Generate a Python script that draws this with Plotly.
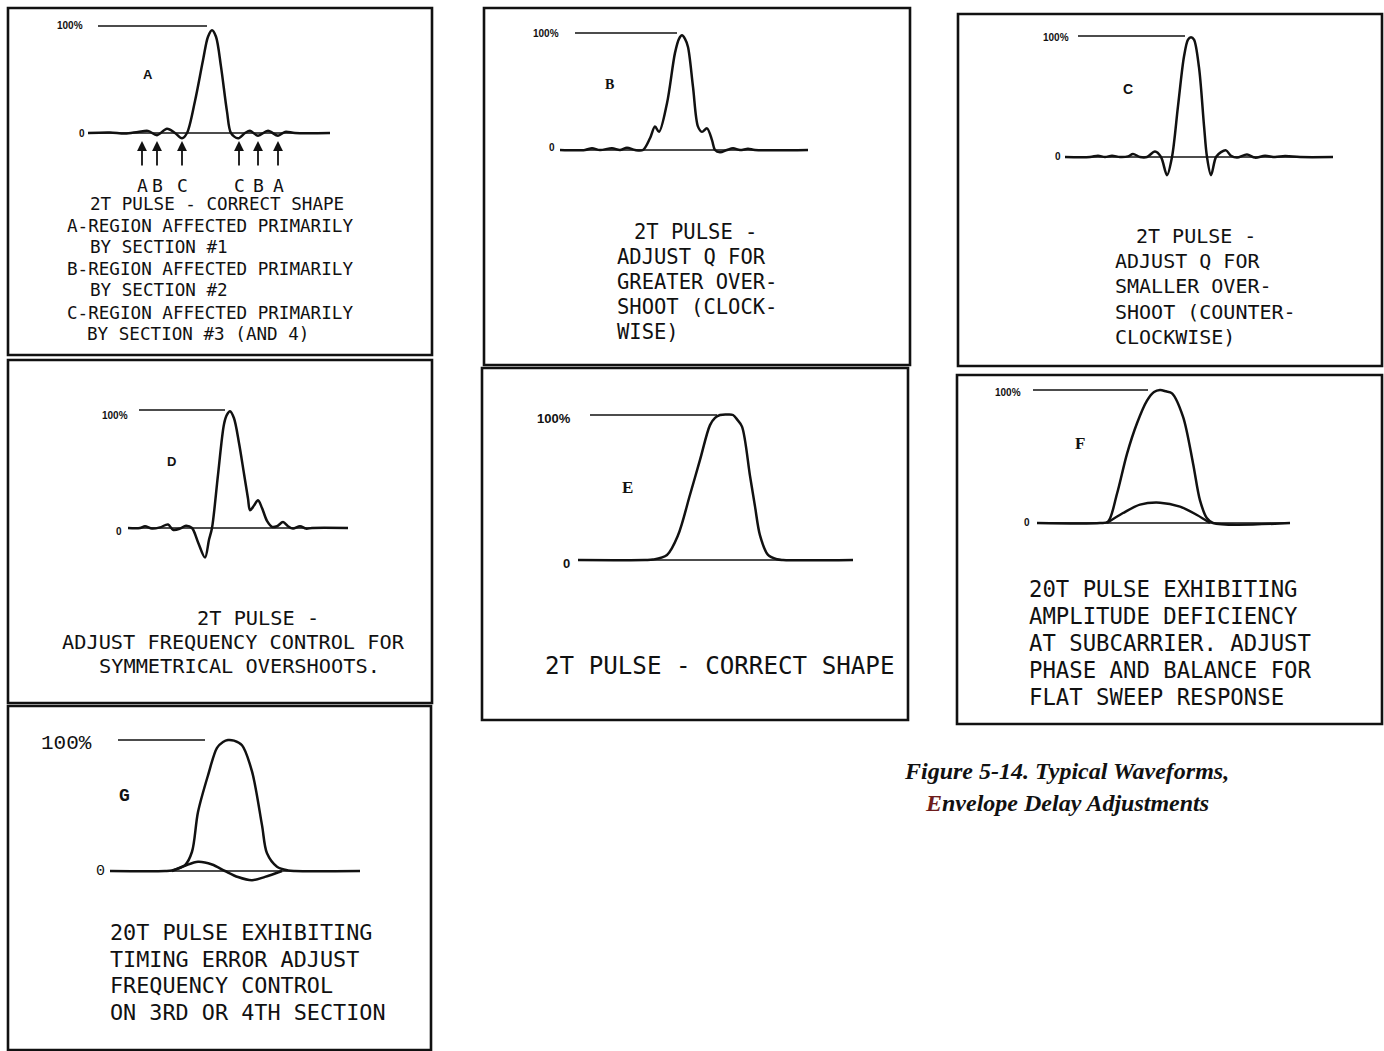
import plotly.graph_objects as go

W, H = 1384, 1051
PX_PER_UNIT = 10.0  # horizontal pixels per time unit

# ---------------- waveform data: time (units) vs amplitude (% of reference) ----------------
A_t = [-12.4, -10.2, -8.7, -7.4, -6.4, -5.5, -4.5, -3.7, -3.0, -2.5, -1.7, -0.9, -0.4, 0.0, 0.4, 0.9, 1.5, 1.9, 2.6, 3.3, 3.8, 4.6, 5.6, 6.6, 7.3, 8.3, 11.8]
A_v = [0, 0.5, -0.5, 1, 2, -2, 4, 0, -5, 0, 30, 68, 90, 96, 90, 62, 20, 0, -5, 0, 2, -2.5, 2, -2.5, 1, 0, 0]

B_t = [-12.2, -9.7, -9.0, -8.2, -7.0, -6.2, -5.5, -4.7, -3.9, -3.2, -2.7, -2.3, -1.5, -0.7, -0.3, 0.0, 0.3, 0.6, 1.1, 1.6, 2.0, 2.5, 3.0, 3.3, 3.8, 4.5, 5.1, 5.8, 6.6, 7.3, 12.6]
B_v = [0, 0, 1.5, 0, 1.5, 0, 2, 0, 0, 10, 20, 15.5, 40, 83, 95, 98, 95, 88, 54, 20, 15.5, 18.5, 8.5, 0, -2, 0, 1.5, 0, 1, 0, 0]

C_t = [-12.6, -10.1, -9.3, -8.6, -7.9, -7.1, -6.3, -5.8, -5.1, -4.4, -3.6, -3.0, -2.4, -1.9, -1.3, -0.7, -0.3, 0.0, 0.3, 0.8, 1.3, 1.6, 2.0, 2.5, 3.0, 3.5, 4.0, 4.6, 5.6, 6.4, 7.4, 8.4, 9.4, 10.9, 14.2]
C_v = [0, 0, 1, 0, 1, 0, 0.5, 2.5, 0, 0, 4.5, 0, -15, 0, 42, 83, 97, 99, 97, 74, 26, 0, -15, 0, 4, 5.5, 1, -0.5, 2, -0.5, 1, 0, 0.8, 0, 0]

D_t = [-10.2, -9.0, -8.5, -7.8, -7.0, -6.2, -5.7, -5.0, -4.4, -3.8, -3.2, -2.5, -2.1, -1.8, -1.2, -0.6, -0.3, 0.0, 0.4, 0.9, 1.4, 1.8, 2.0, 2.4, 2.8, 3.2, 3.7, 4.2, 4.7, 5.3, 5.8, 6.3, 7.0, 7.6, 8.2, 11.8]
D_v = [0, 0, 1.5, -0.5, 0.5, 3, -1.5, -0.5, 2, 0, -12, -25, -10, 0, 45, 88, 96, 99, 93, 72, 46, 25, 15, 19, 23.5, 17, 6, 1, 1.5, 5, 1.5, -0.5, 1.5, -0.5, 0, 0]

E_t = [-14.9, -8.2, -7.4, -6.0, -4.9, -3.7, -2.7, -1.7, -1.2, -0.7, 0.0, 0.6, 1.0, 1.5, 2.3, 2.8, 3.3, 4.1, 5.0, 5.6, 12.6]
E_v = [0, 0, 0.3, 3.5, 17, 45, 69, 93, 98, 100, 100.3, 100, 97, 92, 58, 37, 17, 3.5, 0.5, 0, 0]

F_t = [-12.3, -6.0, -5.2, -4.3, -3.3, -2.3, -1.3, -0.6, 0.0, 0.6, 1.2, 2.3, 3.3, 4.0, 4.7, 5.3, 13.0]
F_v = [0, 0, 1, 22, 52, 75, 92, 98.5, 100, 99, 97.5, 80, 45, 17, 3.5, 0, 0]
F_sub_t = [-5.3, -3.7, -2.0, 0.0, 2.0, 3.7, 5.0]
F_sub_v = [0, 7.5, 13.8, 15.3, 12.3, 6, 0]

G_t = [-11.8, -6.3, -5.6, -4.3, -3.6, -3.0, -2.0, -1.1, -0.5, 0.0, 0.6, 1.4, 2.4, 3.4, 3.9, 4.9, 6.0, 6.7, 13.2]
G_v = [0, 0, 0.5, 4.5, 14.7, 45, 73, 94, 98.5, 100, 99.5, 96, 76, 35, 13.5, 3.3, 0.5, 0, 0]
G_sub_t = [-5.6, -4.3, -3.0, -1.6, -0.3, 1.0, 2.4, 3.7, 5.4]
G_sub_v = [0, 4, 7, 5, 0, -4.6, -7, -4.5, 0]

# region markers in panel A
arrow_t = [-7.0, -5.5, -3.0, 2.7, 4.6, 6.6]
arrow_labels = ["A", "B", "C", "C", "B", "A"]

# ---------------- texts ----------------
A_caption = ["2T PULSE - CORRECT SHAPE", "A-REGION AFFECTED PRIMARILY", "BY SECTION #1",
             "B-REGION AFFECTED PRIMARILY", "BY SECTION #2", "C-REGION AFFECTED PRIMARILY",
             "BY SECTION #3 (AND 4)"]
B_caption = ["2T PULSE -", "ADJUST Q FOR", "GREATER OVER-", "SHOOT (CLOCK-", "WISE)"]
C_caption = ["2T PULSE -", "ADJUST Q FOR", "SMALLER OVER-", "SHOOT (COUNTER-", "CLOCKWISE)"]
D_caption = ["2T PULSE -", "ADJUST FREQUENCY CONTROL FOR", "SYMMETRICAL OVERSHOOTS."]
E_caption = ["2T PULSE - CORRECT SHAPE"]
F_caption = ["20T PULSE EXHIBITING", "AMPLITUDE DEFICIENCY", "AT SUBCARRIER. ADJUST",
             "PHASE AND BALANCE FOR", "FLAT SWEEP RESPONSE"]
G_caption = ["20T PULSE EXHIBITING", "TIMING ERROR ADJUST", "FREQUENCY CONTROL", "ON 3RD OR 4TH SECTION"]
figure_title = ["Figure 5-14. Typical Waveforms,", "Envelope Delay Adjustments"]

# ---------------- layout spec (pixel geometry of each panel) ----------------
SANS = "Liberation Sans"
SERIF = "Liberation Serif"
MONO = "DejaVu Sans Mono"

panels = [
    dict(letter="A", box=(8, 8, 432, 355), cx=212, by=133, ty=26, r100=(98, 207), base=(88, 330),
         waves=[(A_t, A_v)], letter_pos=(148, 75), letter_font=(SANS, 13),
         lbl100=(70, 26), lbl0=(82, 133), lbl_font=(SANS, 10),
         caption=A_caption, cap_size=17.6,
         cap_pos=[(88, 204), (65, 226), (88, 247), (65, 269), (88, 290), (65, 313), (85, 334)]),
    dict(letter="B", box=(484, 8, 910, 365), cx=682, by=150, ty=33, r100=(575, 677), base=(560, 808),
         waves=[(B_t, B_v)], letter_pos=(609, 85), letter_font=(SERIF, 14),
         lbl100=(546, 33), lbl0=(552, 147), lbl_font=(SANS, 10),
         caption=B_caption, cap_size=20.5,
         cap_pos=[(632, 232), (615, 257), (615, 282), (615, 307), (615, 332)]),
    dict(letter="C", box=(958, 14, 1382, 366), cx=1191, by=157, ty=36, r100=(1078, 1185), base=(1065, 1333),
         waves=[(C_t, C_v)], letter_pos=(1128, 89), letter_font=(SANS, 14),
         lbl100=(1056, 37), lbl0=(1058, 157), lbl_font=(SANS, 10),
         caption=C_caption, cap_size=20,
         cap_pos=[(1134, 236), (1113, 261), (1113, 286), (1113, 312), (1113, 337)]),
    dict(letter="D", box=(8, 360, 432, 703), cx=230, by=528, ty=410, r100=(139, 225), base=(128, 348),
         waves=[(D_t, D_v)], letter_pos=(171, 461), letter_font=(SANS, 13),
         lbl100=(115, 415), lbl0=(119, 531), lbl_font=(SANS, 10),
         caption=D_caption, cap_size=20.3,
         cap_pos=[(195, 618), (60, 642), (97, 666)]),
    dict(letter="E", box=(482, 368, 908, 720), cx=727, by=560, ty=415, r100=(590, 717), base=(578, 853),
         waves=[(E_t, E_v)], letter_pos=(627, 487), letter_font=(SERIF, 17),
         lbl100=(554, 418), lbl0=(566, 563), lbl_font=(SANS, 13),
         caption=E_caption, cap_size=24.2,
         cap_pos=[(543, 666)]),
    dict(letter="F", box=(957, 375, 1382, 724), cx=1160, by=523, ty=390, r100=(1033, 1148), base=(1037, 1290),
         waves=[(F_t, F_v), (F_sub_t, F_sub_v)], letter_pos=(1080, 444), letter_font=(SERIF, 17),
         lbl100=(1008, 393), lbl0=(1027, 522), lbl_font=(SANS, 10),
         caption=F_caption, cap_size=22.3,
         cap_pos=[(1027, 589), (1027, 616), (1027, 643), (1027, 670), (1027, 697)]),
    dict(letter="G", box=(8, 706, 431, 1050), cx=228, by=871, ty=740, r100=(118, 205), base=(110, 360),
         waves=[(G_t, G_v), (G_sub_t, G_sub_v)], letter_pos=(124, 796), letter_font=("Liberation Mono", 18),
         lbl100=(66, 743), lbl0=(100, 871), lbl_font=("Liberation Mono", 21),
         caption=G_caption, cap_size=21.8,
         cap_pos=[(108, 932), (108, 959), (108, 985), (108, 1012)]),
]

INK = "#111111"


def px2t(p, px):
    return (px - p["cx"]) / PX_PER_UNIT


def py2v(p, py):
    return (p["by"] - py) / (p["by"] - p["ty"]) * 100.0


def fx(px):
    return px / W


def fy(py):
    return 1 - py / H


fig = go.Figure()
layout_axes = {}
shapes = []
annotations = []

for i, p in enumerate(panels, start=1):
    sfx = "" if i == 1 else str(i)
    xref, yref = "x" + sfx, "y" + sfx
    x0, y0, x1, y1 = p["box"]
    layout_axes["xaxis" + sfx] = dict(domain=[fx(x0), fx(x1)], range=[px2t(p, x0), px2t(p, x1)],
                                      visible=False, anchor=yref, fixedrange=True)
    layout_axes["yaxis" + sfx] = dict(domain=[fy(y1), fy(y0)], range=[py2v(p, y1), py2v(p, y0)],
                                      visible=False, anchor=xref, fixedrange=True)
    # reference lines (100 % and 0)
    fig.add_trace(go.Scatter(x=[px2t(p, p["r100"][0]), px2t(p, p["r100"][1])], y=[100, 100],
                             xaxis=xref, yaxis=yref, mode="lines", line=dict(color=INK, width=1.6),
                             hoverinfo="skip", showlegend=False))
    fig.add_trace(go.Scatter(x=[px2t(p, p["base"][0]), px2t(p, p["base"][1])], y=[0, 0],
                             xaxis=xref, yaxis=yref, mode="lines", line=dict(color=INK, width=1.6),
                             hoverinfo="skip", showlegend=False))
    for (t, v) in p["waves"]:
        fig.add_trace(go.Scatter(x=t, y=v, xaxis=xref, yaxis=yref, mode="lines",
                                 line=dict(color=INK, width=2.5, shape="spline", smoothing=0.9),
                                 hoverinfo="skip", showlegend=False))
    # panel border
    shapes.append(dict(type="rect", xref="paper", yref="paper", x0=fx(x0), x1=fx(x1), y0=fy(y1), y1=fy(y0),
                       line=dict(color=INK, width=2.6), fillcolor="rgba(0,0,0,0)"))
    # panel letter
    fam, sz = p["letter_font"]
    annotations.append(dict(text="<b>%s</b>" % p["letter"], x=fx(p["letter_pos"][0]), y=fy(p["letter_pos"][1]),
                            xref="paper", yref="paper", xanchor="center", yanchor="middle", showarrow=False,
                            font=dict(family=fam, size=sz, color=INK)))
    # 100% / 0 labels
    fam, sz = p["lbl_font"]
    bold = "<b>%s</b>" if p["letter"] != "G" else "%s"
    annotations.append(dict(text=bold % "100%", x=fx(p["lbl100"][0]), y=fy(p["lbl100"][1]),
                            xref="paper", yref="paper", xanchor="center", yanchor="middle", showarrow=False,
                            font=dict(family=fam, size=sz, color=INK)))
    annotations.append(dict(text=bold % "0", x=fx(p["lbl0"][0]), y=fy(p["lbl0"][1]),
                            xref="paper", yref="paper", xanchor="center", yanchor="middle", showarrow=False,
                            font=dict(family=fam, size=sz if p["letter"] != "G" else 15, color=INK)))
    # caption lines
    for line, (lx, ly) in zip(p["caption"], p["cap_pos"]):
        annotations.append(dict(text=line, x=fx(lx), y=fy(ly), xref="paper", yref="paper",
                                xanchor="left", yanchor="middle", showarrow=False,
                                font=dict(family=MONO, size=p["cap_size"], color=INK)))

# arrows and region letters in panel A
pA = panels[0]
for t, lab in zip(arrow_t, arrow_labels):
    annotations.append(dict(text="", x=t, y=-7.5, xref="x", yref="y", showarrow=True,
                            ax=0, ay=26, arrowhead=2, arrowsize=1.1, arrowwidth=1.8, arrowcolor=INK))
    annotations.append(dict(text=lab, x=t, y=py2v(pA, 185), xref="x", yref="y", showarrow=False,
                            xanchor="center", yanchor="middle", font=dict(family=MONO, size=18, color=INK)))

# figure caption
annotations.append(dict(text="<b><i>%s</i></b>" % figure_title[0], x=fx(1066), y=fy(771), xref="paper", yref="paper",
                        xanchor="center", yanchor="middle", showarrow=False,
                        font=dict(family=SERIF, size=24, color=INK)))
annotations.append(dict(text="<b><i><span style='color:#6e1c1c'>%s</span>%s</i></b>" % (figure_title[1][0], figure_title[1][1:]),
                        x=fx(1067), y=fy(803), xref="paper", yref="paper",
                        xanchor="center", yanchor="middle", showarrow=False,
                        font=dict(family=SERIF, size=24, color=INK)))

fig.update_layout(width=W, height=H, margin=dict(l=0, r=0, t=0, b=0),
                  paper_bgcolor="white", plot_bgcolor="rgba(0,0,0,0)",
                  shapes=shapes, annotations=annotations, showlegend=False, **layout_axes)

fig.write_html("out.html", config={"displayModeBar": False},
               post_script="document.body.style.margin='0px';document.body.style.overflow='hidden';")
